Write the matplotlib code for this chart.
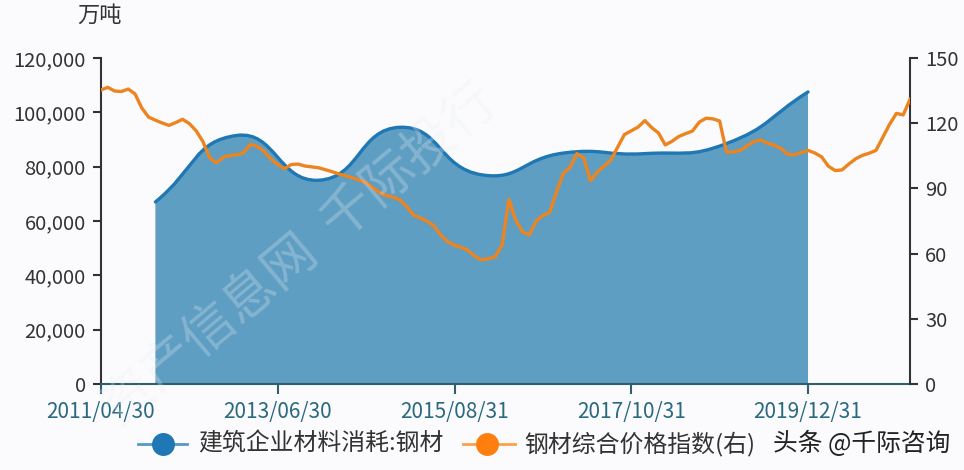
import numpy as np
import pandas as pd
import matplotlib
matplotlib.use('Agg')
import matplotlib.pyplot as plt
from matplotlib.lines import Line2D
from matplotlib.path import Path
from matplotlib.patches import PathPatch

plt.rcParams['font.family'] = ['Noto Sans CJK SC', 'DejaVu Sans']

# ---------------- data ----------------
months = pd.date_range('2011-04-30', periods=120, freq='ME').strftime('%Y/%m/%d').tolist()

price_index = [
    135.3, 136.5, 134.8, 134.6, 135.7, 133.5, 127.0, 122.8, 121.4, 120.1,
    119.0, 120.3, 121.8, 119.8, 116.5, 111.5, 104.0, 101.7, 104.4, 105.2,
    105.4, 106.5, 110.3, 109.3, 107.0, 103.5, 101.0, 99.1, 101.0, 101.2,
    100.3, 99.9, 99.5, 98.6, 97.7, 96.6, 95.8, 94.8, 93.8, 92.6,
    90.3, 88.0, 86.6, 86.0, 84.6, 81.6, 77.6, 76.4, 74.8, 72.7,
    68.3, 65.5, 63.8, 62.9, 61.5, 58.7, 57.1, 57.6, 58.6, 64.0,
    85.0, 75.5, 70.0, 68.6, 75.0, 77.5, 79.0, 88.4, 97.0, 99.7,
    106.0, 104.0, 93.5, 97.5, 100.3, 103.0, 109.0, 114.8, 116.5, 118.2,
    121.2, 118.0, 115.5, 110.0, 111.7, 113.9, 115.2, 116.4, 120.5, 122.3,
    122.0, 121.0, 106.8, 106.8, 107.5, 109.5, 111.5, 112.3, 110.9, 109.8,
    108.5, 105.7, 105.5, 106.5, 107.5, 106.3, 104.5, 100.2, 98.2, 98.5,
    101.2, 103.6, 105.2, 106.2, 107.5, 113.5, 119.5, 124.5, 123.8, 131.0,
]

consumption_dates = ['2011/12/31', '2012/12/31', '2013/12/31', '2014/12/31', '2015/12/31',
                     '2016/12/31', '2017/12/31', '2018/12/31', '2019/12/31']
consumption = [67000, 91500, 75000, 94500, 77000, 85000, 84800, 88500, 107500]

x_tick_labels = ['2011/04/30', '2013/06/30', '2015/08/31', '2017/10/31', '2019/12/31']
left_ticks = [0, 20000, 40000, 60000, 80000, 100000, 120000]
right_ticks = [0, 30, 60, 90, 120, 150]

series_names = ['建筑企业材料消耗:钢材', '钢材综合价格指数(右)']
unit_label = '万吨'
source_label = '头条 @千际咨询'
watermark = '资产信息网  千际投行'

# ---------------- figure ----------------
W, H = 964, 470
BG = '#fbfbfd'
fig = plt.figure(figsize=(W / 100, H / 100), dpi=100, facecolor=BG)

L, R, B, T = 101, 910, 384, 58
ax = fig.add_axes([L / W, 1 - B / H, (R - L) / W, (B - T) / H])
ax.set_facecolor('none')
ax2 = ax.twinx()

BLUE = '#1f77b4'
FILL = '#5f9ec3'
ORANGE = '#ec841f'
DARK = '#333333'
TEAL = '#2f5f6e'
TEAL_TXT = '#2a6a80'

n = len(months)
ax.set_xlim(0, n - 1)
ax.set_ylim(0, 120000)
ax2.set_ylim(0, 150)

cx = [months.index(d) for d in consumption_dates]


def smooth_path(axis, xs, ys, smooth=0.5):
    pts = axis.transData.transform(np.column_stack([xs, ys]))
    m = len(pts)
    cp_prev, cp_next = [], []
    for i in range(m):
        p = pts[i]
        prv = pts[i - 1] if i > 0 else p
        nxt = pts[i + 1] if i < m - 1 else p
        v = (nxt - prv) * smooth
        d0 = np.linalg.norm(p - prv)
        d1 = np.linalg.norm(nxt - p)
        s = d0 + d1
        r0, r1 = (d0 / s, d1 / s) if s > 0 else (0, 0)
        cp_prev.append(p - v * r0)
        cp_next.append(p + v * r1)
    verts = [pts[0]]
    codes = [Path.MOVETO]
    for i in range(m - 1):
        verts += [cp_next[i], cp_prev[i + 1], pts[i + 1]]
        codes += [Path.CURVE4] * 3
    verts = axis.transData.inverted().transform(np.array(verts))
    return verts, codes


verts, codes = smooth_path(ax, cx, consumption)
area_verts = np.vstack([verts, [[cx[-1], 0], [cx[0], 0], [cx[0], 0]]])
area_codes = codes + [Path.LINETO, Path.LINETO, Path.CLOSEPOLY]
ax.add_patch(PathPatch(Path(area_verts, area_codes), facecolor=FILL, edgecolor='none', zorder=2))
ax.add_patch(PathPatch(Path(verts, codes), facecolor='none', edgecolor=BLUE, lw=2.4, zorder=3,
                       capstyle='round', joinstyle='round'))

ax2.plot(range(n), price_index, color=ORANGE, lw=2.4, zorder=4, solid_joinstyle='round')

# axes styling
for a in (ax, ax2):
    a.spines['top'].set_visible(False)
ax.spines['right'].set_visible(False)
ax2.spines['left'].set_visible(False)
ax2.spines['bottom'].set_visible(False)
ax.spines['left'].set_color(DARK)
ax.spines['left'].set_linewidth(1.5)
ax.spines['bottom'].set_color(TEAL)
ax.spines['bottom'].set_linewidth(1.5)
ax2.spines['right'].set_color(DARK)
ax2.spines['right'].set_linewidth(1.5)

ax.set_yticks(left_ticks)
ax.set_yticklabels([f'{v:,}' for v in left_ticks])
ax.tick_params(axis='y', direction='out', length=6, width=1.5, color=DARK,
               labelsize=14.5, labelcolor=DARK, pad=5)
ax.set_xticks([months.index(d) for d in x_tick_labels])
ax.set_xticklabels(x_tick_labels)
ax.tick_params(axis='x', direction='out', length=7, width=1.5, color=TEAL,
               labelsize=15, labelcolor=TEAL_TXT, pad=5)
ax2.set_yticks(right_ticks)
ax2.set_yticklabels([str(v) for v in right_ticks])
ax2.tick_params(axis='y', direction='out', length=6, width=1.5, color=DARK,
                labelsize=14.5, labelcolor=DARK, pad=5)

# unit label
fig.text(100 / W, 1 - 15 / H, unit_label, ha='center', va='center', fontsize=16, color=DARK)


def px(x, y):
    return x / W, 1 - y / H


# legend (manual)
LY = 444
for (x0, x1, xc, tx), col, name in [((138, 187, 163, 198), BLUE, series_names[0]),
                                    ((463, 515, 487, 524), '#ff7f0e', series_names[1])]:
    fig.add_artist(Line2D([x0 / W, x1 / W], [1 - LY / H] * 2, color=col, lw=2,
                          transform=fig.transFigure, alpha=0.75))
    fig.add_artist(Line2D([xc / W], [1 - LY / H], marker='o', markersize=15.5, color=col,
                          markeredgecolor=col, transform=fig.transFigure))
    fig.text(*px(tx, LY), name, ha='left', va='center', fontsize=17.2, color=DARK)

fig.text(*px(773, LY), source_label, ha='left', va='center', fontsize=17.8, color='#222222')

# faint watermark
fig.text(*px(300, 255), watermark, ha='center', va='center', rotation=40, fontsize=38,
         color='#e6edf2', alpha=0.28, zorder=10)

fig.savefig('out.png', dpi=100, facecolor=BG)
